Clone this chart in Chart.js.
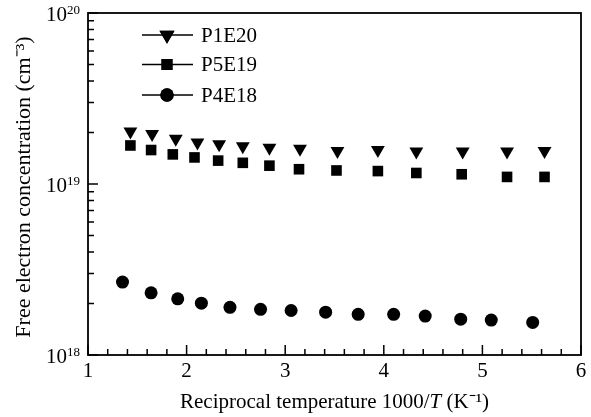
<!DOCTYPE html>
<html>
<head>
<meta charset="utf-8">
<script src="https://cdn.jsdelivr.net/npm/chart.js@4/dist/chart.umd.min.js"></script>
<style>
  html, body { margin: 0; padding: 0; background: #fff; }
  #wrap { width: 591px; height: 417px; }
</style>
</head>
<body>
<div id="wrap"><canvas id="chart"></canvas></div>
<script>
// data
const seriesNames = ['P1E20', 'P5E19', 'P4E18'];

const xP1E20 = [1.43, 1.65, 1.89, 2.11, 2.33, 2.57, 2.84, 3.15, 3.53, 3.94, 4.33, 4.80, 5.25, 5.63];
const yP1E20 = [2.03e19, 1.96e19, 1.84e19, 1.75e19, 1.71e19, 1.66e19, 1.63e19, 1.61e19, 1.56e19, 1.58e19, 1.55e19, 1.55e19, 1.55e19, 1.56e19];

const xP5E19 = [1.43, 1.64, 1.86, 2.08, 2.32, 2.57, 2.84, 3.14, 3.52, 3.94, 4.33, 4.79, 5.25, 5.63];
const yP5E19 = [1.68e19, 1.58e19, 1.49e19, 1.43e19, 1.37e19, 1.33e19, 1.28e19, 1.22e19, 1.20e19, 1.19e19, 1.16e19, 1.14e19, 1.10e19, 1.10e19];

const xP4E18 = [1.35, 1.64, 1.91, 2.15, 2.44, 2.75, 3.06, 3.41, 3.74, 4.10, 4.42, 4.78, 5.09, 5.51];
const yP4E18 = [2.67e18, 2.31e18, 2.13e18, 2.01e18, 1.90e18, 1.85e18, 1.82e18, 1.78e18, 1.73e18, 1.73e18, 1.69e18, 1.62e18, 1.60e18, 1.55e18];

const xTicks = [1, 2, 3, 4, 5, 6];
const yTicks = [1e18, 1e19, 1e20];
const yTickExp = ['18', '19', '20'];

const serif = '"Liberation Serif", "Times New Roman", serif';

function pts(xs, ys) {
    return xs.map((x, i) => ({ x: x, y: ys[i] }));
}

// frame, inward ticks, y labels, legend and axis titles
const decor = {
    id: 'decor',
    afterDraw(chart) {
        const ctx = chart.ctx;
        const a = chart.chartArea;
        const xs = chart.scales.x, ys = chart.scales.y;
        ctx.save();
        ctx.strokeStyle = '#000';
        ctx.lineWidth = 1.8;
        ctx.strokeRect(a.left, a.top, a.right - a.left, a.bottom - a.top);

        ctx.lineWidth = 1.5;
        ctx.beginPath();
        for (let v = 1; v <= 6.0001; v += 0.2) {
            let px = xs.getPixelForValue(v);
            let major = Math.abs(v - Math.round(v)) < 1e-6;
            let len = major ? 10 : 6;
            ctx.moveTo(px, a.bottom);
            ctx.lineTo(px, a.bottom - len);
        }
        for (let e = 18; e < 20; e++) {
            for (let m = 1; m <= 10; m++) {
                let py = ys.getPixelForValue(m * Math.pow(10, e));
                let len = (m == 1 || m == 10) ? 10 : 6;
                ctx.moveTo(a.left, py);
                ctx.lineTo(a.left + len, py);
            }
        }
        ctx.stroke();

        // y tick labels 10^n
        ctx.fillStyle = '#000';
        ctx.textBaseline = 'alphabetic';
        ctx.textAlign = 'right';
        yTicks.forEach((v, i) => {
            let py = ys.getPixelForValue(v);
            ctx.font = '13px ' + serif;
            let ew = ctx.measureText(yTickExp[i]).width;
            ctx.fillText(yTickExp[i], 80, py + 1);
            ctx.font = '21px ' + serif;
            ctx.fillText('10', 80 - ew, py + 8);
        });

        // legend
        const legendY = [35, 64.5, 95];
        chart.data.datasets.forEach((ds, i) => {
            let y = legendY[i];
            ctx.strokeStyle = '#000';
            ctx.fillStyle = '#000';
            ctx.lineWidth = 1.5;
            ctx.beginPath();
            ctx.moveTo(142, y);
            ctx.lineTo(193, y);
            ctx.stroke();
            Chart.helpers.drawPoint(ctx, {
                pointStyle: ds.pointStyle,
                rotation: ds.rotation || 0,
                radius: ds.legendRadius,
                borderWidth: 0
            }, 167, y);
            ctx.fill();
            ctx.font = '21px ' + serif;
            ctx.textBaseline = 'middle';
            ctx.textAlign = 'left';
            ctx.fillText(ds.label, 201, y + 1);
        });

        // x axis title with italic T
        ctx.fillStyle = '#000';
        ctx.textBaseline = 'alphabetic';
        ctx.textAlign = 'left';
        const parts = [
            ['Reciprocal temperature 1000/', '21px ' + serif],
            ['T', 'italic 21px ' + serif],
            [' (K\u207B\u00B9)', '21px ' + serif]
        ];
        let total = 0;
        parts.forEach(p => { ctx.font = p[1]; total += ctx.measureText(p[0]).width; });
        let x0 = (a.left + a.right) / 2 - total / 2;
        parts.forEach(p => {
            ctx.font = p[1];
            ctx.fillText(p[0], x0, 408);
            x0 += ctx.measureText(p[0]).width;
        });

        // y axis title
        ctx.translate(24, (a.top + a.bottom) / 2 + 3);
        ctx.rotate(-Math.PI / 2);
        ctx.textAlign = 'center';
        ctx.textBaseline = 'middle';
        ctx.font = '22px ' + serif;
        ctx.fillText('Free electron concentration (cm\u207B\u00B3)', 0, 0);
        ctx.restore();
    }
};

new Chart(document.getElementById('chart'), {
    type: 'scatter',
    data: {
        datasets: [
            {
                label: seriesNames[0],
                data: pts(xP1E20, yP1E20),
                pointStyle: 'triangle',
                rotation: 180,
                pointRadius: 8,
                legendRadius: 8.7,
                backgroundColor: '#000',
                borderWidth: 0
            },
            {
                label: seriesNames[1],
                data: pts(xP5E19, yP5E19),
                pointStyle: 'rect',
                pointRadius: 7.5,
                legendRadius: 7.8,
                backgroundColor: '#000',
                borderWidth: 0
            },
            {
                label: seriesNames[2],
                data: pts(xP4E18, yP4E18),
                pointStyle: 'circle',
                pointRadius: 6.5,
                legendRadius: 6.7,
                backgroundColor: '#000',
                borderWidth: 0
            }
        ]
    },
    options: {
        responsive: true,
        maintainAspectRatio: false,
        animation: false,
        layout: { padding: { top: 13, right: 10, left: 0, bottom: 0 } },
        plugins: {
            legend: { display: false },
            tooltip: { enabled: false }
        },
        scales: {
            x: {
                type: 'linear',
                min: 1,
                max: 6,
                afterBuildTicks: s => { s.ticks = xTicks.map(v => ({ value: v })); },
                afterFit: s => { s.height = 62; },
                grid: { display: false, drawTicks: false },
                border: { display: false },
                ticks: {
                    color: '#000',
                    padding: 4,
                    font: { family: serif, size: 21 },
                    maxRotation: 0
                }
            },
            y: {
                type: 'logarithmic',
                min: 1e18,
                max: 1e20,
                afterBuildTicks: s => { s.ticks = yTicks.map(v => ({ value: v })); },
                afterFit: s => { s.width = 88; },
                grid: { display: false, drawTicks: false },
                border: { display: false },
                ticks: { display: false }
            }
        }
    },
    plugins: [decor]
});
</script>
</body>
</html>
